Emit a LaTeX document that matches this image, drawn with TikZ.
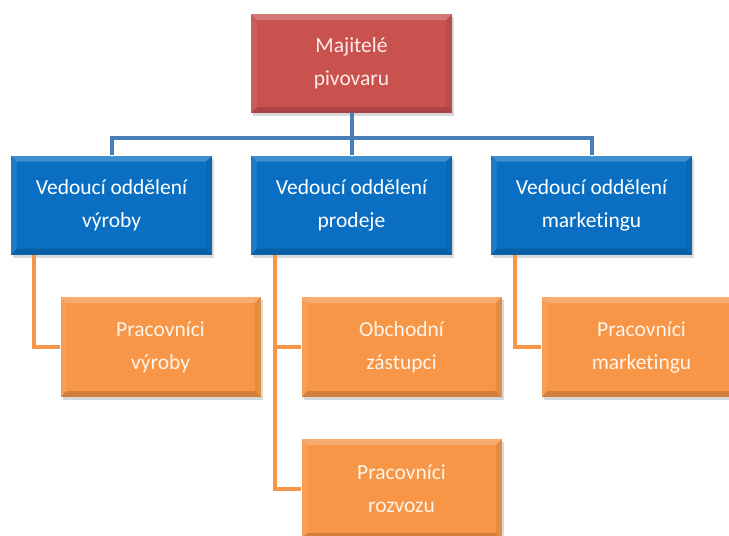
\documentclass[tikz,border=0pt]{standalone}
\usepackage{fontspec}
\setmainfont{Carlito}[Ligatures=NoCommon]
\usepackage{tikz}
\usetikzlibrary{positioning, shadows}

\definecolor{ownerred}{HTML}{C9514E}
\definecolor{headblue}{HTML}{0A6FC2}
\definecolor{staffor}{HTML}{F79646}
\definecolor{busblue}{HTML}{4A7EBB}

\tikzset{
  bevel/.style={path picture={
    \fill[white,opacity=0.22] (path picture bounding box.north west) -- (path picture bounding box.north east)
      -- ([xshift=-6pt,yshift=-6pt]path picture bounding box.north east) -- ([xshift=6pt,yshift=-6pt]path picture bounding box.north west) -- cycle;
    \fill[white,opacity=0.08] (path picture bounding box.north west) -- ([xshift=6pt,yshift=-6pt]path picture bounding box.north west)
      -- ([xshift=6pt,yshift=6pt]path picture bounding box.south west) -- (path picture bounding box.south west) -- cycle;
    \fill[black,opacity=0.15] (path picture bounding box.south west) -- (path picture bounding box.south east)
      -- ([xshift=-6pt,yshift=6pt]path picture bounding box.south east) -- ([xshift=6pt,yshift=6pt]path picture bounding box.south west) -- cycle;
    \fill[black,opacity=0.07] (path picture bounding box.north east) -- ([xshift=-6pt,yshift=-6pt]path picture bounding box.north east)
      -- ([xshift=-6pt,yshift=6pt]path picture bounding box.south east) -- (path picture bounding box.south east) -- cycle;
  }},
  box/.style={rectangle, bevel, align=center, font=\fontsize{21.5}{33}\selectfont,
    drop shadow={shadow xshift=2pt, shadow yshift=-3pt, opacity=0.3},
    minimum width=201pt, minimum height=99pt, inner sep=0pt},
  owner/.style={box, fill=ownerred, text=red!8!white},
  head/.style={box, fill=headblue, text=white},
  staff/.style={box, fill=staffor, text=orange!8!white, minimum width=200pt, minimum height=100pt},
  busline/.style={draw=busblue, line width=4pt},
  staffline/.style={draw=staffor, line width=4pt}
}

\begin{document}
\begin{tikzpicture}[x=1pt, y=-1pt, on grid]
  \useasboundingbox (0,0) rectangle (729,536);

  % owners and department heads
  \node[owner] (owners) at (351.5,63.5) {Majitelé\\pivovaru};
  \node[head, below = 141.5pt of owners] (headSales) {Vedoucí oddělení\\prodeje};
  \node[head, left = 240pt of headSales] (headProd) {Vedoucí oddělení\\výroby};
  \node[head, right = 240pt of headSales] (headMkt) {Vedoucí oddělení\\marketingu};

  % staff under each head
  \node[staff, below right = 142pt and 49pt of headProd] (staffProd) {Pracovníci\\výroby};
  \node[staff, below right = 142pt and 50pt of headSales] (agents) {Obchodní\\zástupci};
  \node[staff, below = 142pt of agents] (delivery) {Pracovníci\\rozvozu};
  \node[staff, below right = 142pt and 50pt of headMkt] (staffMkt) {Pracovníci\\marketingu};

  \coordinate[below = 74.5pt of owners] (bus);

  \begin{scope}[on background layer/.try]
  \path[busline] (owners.south) -- (bus)
    (bus) -| (headProd.north)
    (bus) -| (headMkt.north)
    (bus) -- (headSales.north);
  \path[staffline] ([xshift=-78pt]headProd.south) |- (staffProd.west)
    ([xshift=-77pt]headSales.south) |- (agents.west)
    ([xshift=-77pt]headSales.south) |- (delivery.west)
    ([xshift=-77pt]headMkt.south) |- (staffMkt.west);
  \end{scope}
\end{tikzpicture}
\end{document}
